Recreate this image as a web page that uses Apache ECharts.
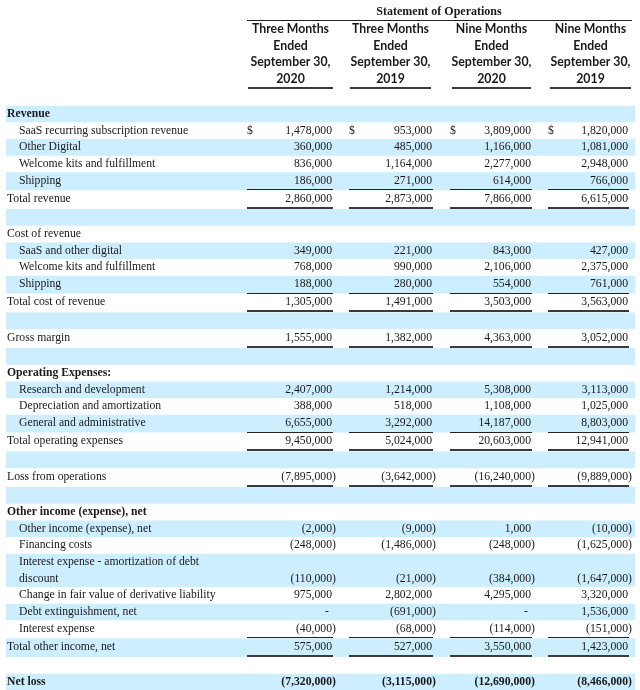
<!DOCTYPE html>
<html><head><meta charset="utf-8">
<script src="https://cdn.jsdelivr.net/npm/echarts@6/dist/echarts.min.js"></script>
<style>html,body{margin:0;padding:0;background:#fff}#c{width:640px;height:690px}</style>
</head><body><div id="c"></div>
<script>
// ---------- data ----------
const tableTitle = 'Statement of Operations';
const headLine1 = ['Three Months', 'Three Months', 'Nine Months', 'Nine Months'];
const headLine2 = ['Ended', 'Ended', 'Ended', 'Ended'];
const headLine3 = ['September 30,', 'September 30,', 'September 30,', 'September 30,'];
const headLine4 = ['2020', '2019', '2020', '2019'];

const rowLabels = [
  'Revenue', 'SaaS recurring subscription revenue', 'Other Digital', 'Welcome kits and fulfillment', 'Shipping', 'Total revenue', '',
  'Cost of revenue', 'SaaS and other digital', 'Welcome kits and fulfillment', 'Shipping', 'Total cost of revenue', '',
  'Gross margin', '',
  'Operating Expenses:', 'Research and development', 'Depreciation and amortization', 'General and administrative', 'Total operating expenses', '',
  'Loss from operations', '',
  'Other income (expense), net', 'Other income (expense), net', 'Financing costs', 'Interest expense - amortization of debt\ndiscount',
  'Change in fair value of derivative liability', 'Debt extinguishment, net', 'Interest expense', 'Total other income, net', '',
  'Net loss'
];
// kind: h = bold section header, i = indented item, t = plain line, b = blank, f = bold final
const rowKind = [
  'h','i','i','i','i','t','b',
  't','i','i','i','t','b',
  't','b',
  'h','i','i','i','t','b',
  't','b',
  'h','i','i','i','i','i','i','t','b',
  'f'
];
const threeMonths2020 = [null,1478000,360000,836000,186000,2860000,null, null,349000,768000,188000,1305000,null, 1555000,null, null,2407000,388000,6655000,9450000,null, -7895000,null, null,-2000,-248000,-110000,975000,0,-40000,575000,null, -7320000];
const threeMonths2019 = [null,953000,485000,1164000,271000,2873000,null, null,221000,990000,280000,1491000,null, 1382000,null, null,1214000,518000,3292000,5024000,null, -3642000,null, null,-9000,-1486000,-21000,2802000,-691000,-68000,527000,null, -3115000];
const nineMonths2020 = [null,3809000,1166000,2277000,614000,7866000,null, null,843000,2106000,554000,3503000,null, 4363000,null, null,5308000,1108000,14187000,20603000,null, -16240000,null, null,1000,-248000,-384000,4295000,0,-114000,3550000,null, -12690000];
const nineMonths2019 = [null,1820000,1081000,2948000,766000,6615000,null, null,427000,2375000,761000,3563000,null, 3052000,null, null,3113000,1025000,8803000,12941000,null, -9889000,null, null,-10000,-1625000,-1647000,3320000,1536000,-151000,1423000,null, -8466000];
const dollarRows = [1];
const ruleAboveRows = [5, 11, 19, 30];
const ruleBelowRows = [5, 11, 13, 19, 21, 30];

// ---------- layout ----------
const columns = [threeMonths2020, threeMonths2019, nineMonths2020, nineMonths2019];
const colRight = [332, 432, 531, 628];
const colLeft = [247, 349, 450, 548];
const headLeft = [248, 350, 452, 550];
const headRight = [333, 431, 531, 631];
const LABEL_X = 7, INDENT_X = 19, STRIPE_X0 = 6, STRIPE_X1 = 635;
const SERIF = '"Liberation Serif", "Times New Roman", serif';
const SANS = 'Lato, "Liberation Sans", sans-serif';
const FS = 11.7;
const INK = '#1a1a1a';
const STRIPE = '#cceeff';
const LINE = 16.65, SINGLE_EXTRA = 1.2, DOUBLE_EXTRA = 2.3;
const BODY_TOP = 114 - LINE / 2;
const TITLE_Y = 12, TITLE_RULE_Y = 20, HEAD_Y0 = 29, HEAD_RULE_Y = 88;

// row geometry derived from the row structure
const rowLineCount = rowLabels.map(l => l.split('\n').length);
const rowTop = [], rowBottom = [];
let acc = BODY_TOP;
rowLabels.forEach((l, i) => {
  rowTop.push(acc);
  acc += LINE * rowLineCount[i];
  if (ruleAboveRows.indexOf(i + 1) >= 0) acc += SINGLE_EXTRA;
  if (ruleBelowRows.indexOf(i) >= 0) acc += DOUBLE_EXTRA;
  rowBottom.push(acc);
});

function fmt(v) { return Math.abs(v).toLocaleString('en-US'); }
function txt(x, y, text, align, font) {
  return { type: 'text', style: { x, y, text, align, verticalAlign: 'middle', font, fill: INK } };
}
function hline(x1, x2, y, w, color) {
  return { type: 'line', shape: { x1, y1: y, x2, y2: y }, style: { stroke: color, lineWidth: w } };
}

const rowData = rowLabels.map((l, i) => [0, rowTop[i], i]);

const chart = echarts.init(document.getElementById('c'));
chart.setOption({
  animation: false,
  backgroundColor: '#fff',
  grid: { left: 0, right: 0, top: 0, bottom: 0 },
  xAxis: { type: 'value', min: 0, max: 640, show: false },
  yAxis: { type: 'value', min: 0, max: 690, inverse: true, show: false },
  series: [
    { // stripes
      type: 'custom', z: 1, silent: true,
      encode: { x: 0, y: 1 },
      data: rowData,
      renderItem: function (params, api) {
        const i = api.value(2);
        if (i % 2 !== 0) return null;
        const y0 = api.coord([0, rowTop[i]])[1];
        const y1 = api.coord([0, rowBottom[i]])[1];
        return { type: 'rect', shape: { x: STRIPE_X0, y: y0, width: STRIPE_X1 - STRIPE_X0, height: y1 - y0 }, style: { fill: STRIPE } };
      }
    },
    { // rows
      type: 'custom', z: 2, silent: true,
      encode: { x: 0, y: 1 },
      data: rowData,
      renderItem: function (params, api) {
        const i = api.value(2);
        const kind = rowKind[i];
        const n = rowLineCount[i];
        const top = rowTop[i];
        const children = [];
        const bold = (kind === 'h' || kind === 'f');
        const font = (bold ? 'bold ' : '') + FS + 'px ' + SERIF;
        if (kind !== 'b') {
          rowLabels[i].split('\n').forEach((line, j) => {
            const y = api.coord([0, top + LINE * (j + 0.5)])[1];
            children.push(txt(kind === 'i' ? INDENT_X : LABEL_X, y, line, 'left', font));
          });
        }
        const yv = api.coord([0, top + LINE * (n - 0.5)])[1];
        columns.forEach((col, c) => {
          const v = col[i];
          if (v === null || v === undefined) return;
          if (v === 0) {
            children.push(txt(colRight[c] - 3, yv, '-', 'right', font));
          } else if (v < 0) {
            children.push(txt(colRight[c], yv, '(' + fmt(v), 'right', font));
            children.push(txt(colRight[c], yv, ')', 'left', font));
          } else {
            children.push(txt(colRight[c], yv, fmt(v), 'right', font));
          }
          if (dollarRows.indexOf(i) >= 0) children.push(txt(colLeft[c], yv, '$', 'left', font));
        });
        const yBot = api.coord([0, rowBottom[i]])[1];
        if (ruleAboveRows.indexOf(i + 1) >= 0) {
          colRight.forEach((r, c) => children.push(hline(colLeft[c], r + 1, Math.round(yBot - 1) + 0.5, 1, '#222')));
        }
        if (ruleBelowRows.indexOf(i) >= 0) {
          colRight.forEach((r, c) => children.push(hline(colLeft[c], r + 1, Math.round(yBot - 1.2), 2, '#3a3a3a')));
        }
        return { type: 'group', children };
      }
    },
    { // column headers
      type: 'custom', z: 2, silent: true,
      encode: { x: 0, y: 1 },
      data: headLine1.map((h, c) => [0, HEAD_Y0, c]),
      renderItem: function (params, api) {
        const c = api.value(2);
        const cx = (headLeft[c] + headRight[c]) / 2;
        const font = 'bold 12.3px ' + SANS;
        const lines = [headLine1[c], headLine2[c], headLine3[c], headLine4[c]];
        const children = lines.map((t, j) => txt(cx, api.coord([0, HEAD_Y0 + LINE * j])[1], t, 'center', font));
        children.push(hline(headLeft[c], headRight[c], Math.round(api.coord([0, HEAD_RULE_Y])[1]), 2, '#3a3a3a'));
        return { type: 'group', children };
      }
    },
    { // title
      type: 'custom', z: 2, silent: true,
      encode: { x: 0, y: 1 },
      data: [[0, TITLE_Y, 0]],
      renderItem: function (params, api) {
        const y = api.coord([0, TITLE_Y])[1];
        const yu = api.coord([0, TITLE_RULE_Y])[1];
        return { type: 'group', children: [
          txt((colLeft[0] + headRight[3]) / 2, y, tableTitle, 'center', 'bold 12px ' + SERIF),
          hline(colLeft[0], headRight[3] + 1, Math.round(yu) + 0.5, 1, '#222')
        ] };
      }
    }
  ]
});
</script>
</body></html>
